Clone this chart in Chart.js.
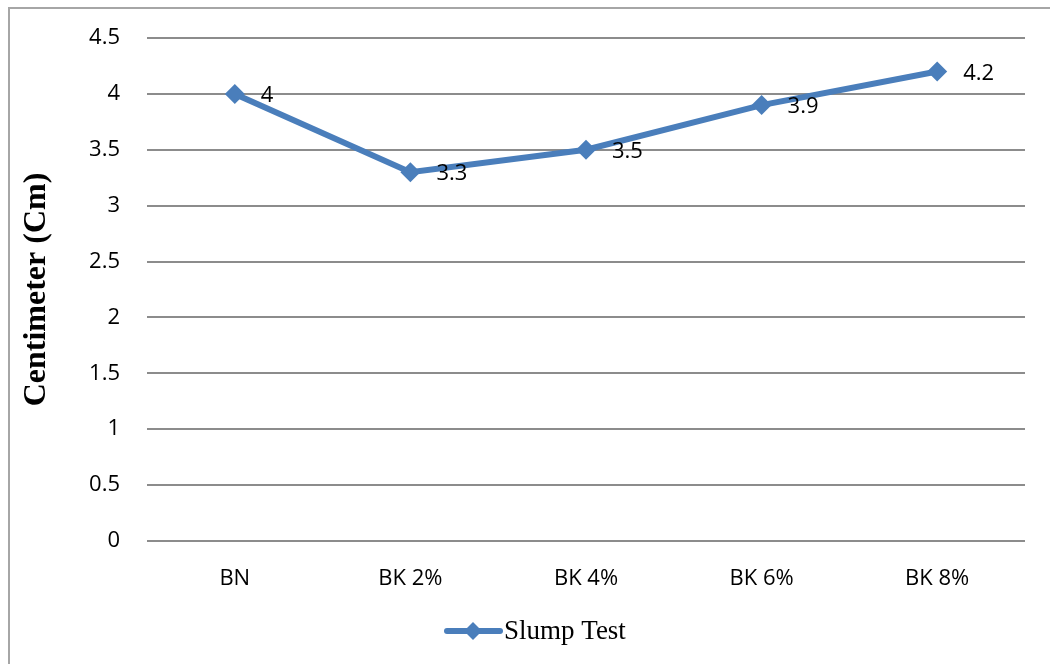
<!DOCTYPE html>
<html>
<head>
<meta charset="utf-8">
<script src="https://cdn.jsdelivr.net/npm/chart.js@4.4.1/dist/chart.umd.min.js"></script>
<style>
  html, body { margin: 0; padding: 0; background: #fff; overflow: hidden; }
  #wrap { position: relative; width: 1050px; height: 664px; }
  #frame { position: absolute; left: 8px; top: 7px; width: 1100px; height: 700px; border-left: 2px solid #a6a6a6; border-top: 2px solid #a6a6a6; }
  canvas { position: absolute; left: 0; top: 0; }
</style>
</head>
<body>
<div id="wrap">
  <div id="frame"></div>
  <canvas id="chart" width="1050" height="664"></canvas>
</div>
<script>
var categories = ['BN', 'BK 2%', 'BK 4%', 'BK 6%', 'BK 8%'];
var slumpValues = [4, 3.3, 3.5, 3.9, 4.2];
var yTicks = [0, 0.5, 1, 1.5, 2, 2.5, 3, 3.5, 4, 4.5];
var seriesName = 'Slump Test';
var yTitle = 'Centimeter (Cm)';

var BLUE = '#4a7ebb';
var TICK_FONT = '"Open Sans", sans-serif';
var SERIF = '"Liberation Serif", "Times New Roman", serif';

var extras = {
    id: 'extras',
    afterDatasetsDraw: function(chart) {
        var c = chart.ctx;
        var meta = chart.getDatasetMeta(0);
        c.save();
        // value labels right of the points
        c.font = '22px ' + TICK_FONT;
        c.fillStyle = '#000';
        c.textAlign = 'left';
        c.textBaseline = 'middle';
        meta.data.forEach(function(pt, i) {
            c.fillText(String(slumpValues[i]), pt.x + 26, pt.y + 2);
        });
        // y axis title
        var area = chart.chartArea;
        c.translate(37, (area.top + area.bottom) / 2);
        c.rotate(-Math.PI / 2);
        c.font = 'bold 32px ' + SERIF;
        c.textAlign = 'center';
        c.textBaseline = 'middle';
        c.fillText(yTitle, 0, 0);
        c.restore();

        // legend
        c.save();
        var ly = 631;
        c.strokeStyle = BLUE;
        c.lineWidth = 6;
        c.lineCap = 'round';
        c.beginPath();
        c.moveTo(447, ly);
        c.lineTo(500, ly);
        c.stroke();
        c.fillStyle = BLUE;
        c.beginPath();
        c.moveTo(473, ly - 9);
        c.lineTo(482, ly);
        c.lineTo(473, ly + 9);
        c.lineTo(464, ly);
        c.closePath();
        c.fill();
        c.fillStyle = '#000';
        c.font = '27px ' + SERIF;
        c.textAlign = 'left';
        c.textBaseline = 'middle';
        c.fillText(seriesName, 504, ly + 1);
        c.restore();
    }
};

new Chart(document.getElementById('chart').getContext('2d'), {
    type: 'line',
    data: {
        labels: categories,
        datasets: [{
            label: seriesName,
            data: slumpValues,
            borderColor: BLUE,
            backgroundColor: BLUE,
            borderWidth: 6,
            pointStyle: 'rectRot',
            pointRadius: 10,
            pointBorderWidth: 0,
            tension: 0
        }]
    },
    options: {
        responsive: false,
        animation: false,
        devicePixelRatio: 1,
        layout: { padding: { left: 0, right: 25, top: 38, bottom: 0 } },
        scales: {
            x: {
                offset: true,
                grid: { display: false },
                border: { display: false },
                ticks: { color: '#000', font: { family: TICK_FONT, size: 22 }, padding: 17, maxRotation: 0 },
                afterFit: function(s) { s.height = 123; }
            },
            y: {
                min: 0,
                max: 4.5,
                afterBuildTicks: function(s) { s.ticks = yTicks.map(function(v) { return { value: v }; }); },
                grid: { color: '#8c8c8c', lineWidth: 2, drawTicks: false },
                border: { display: false },
                ticks: {
                    color: '#000',
                    font: { family: TICK_FONT, size: 22 },
                    padding: 27,
                    callback: function(v) { return String(v); }
                },
                afterFit: function(s) { s.width = 147; s.paddingTop = 0; s.paddingBottom = 0; }
            }
        },
        plugins: {
            legend: { display: false },
            tooltip: { enabled: false }
        }
    },
    plugins: [extras]
});
</script>
</body>
</html>
